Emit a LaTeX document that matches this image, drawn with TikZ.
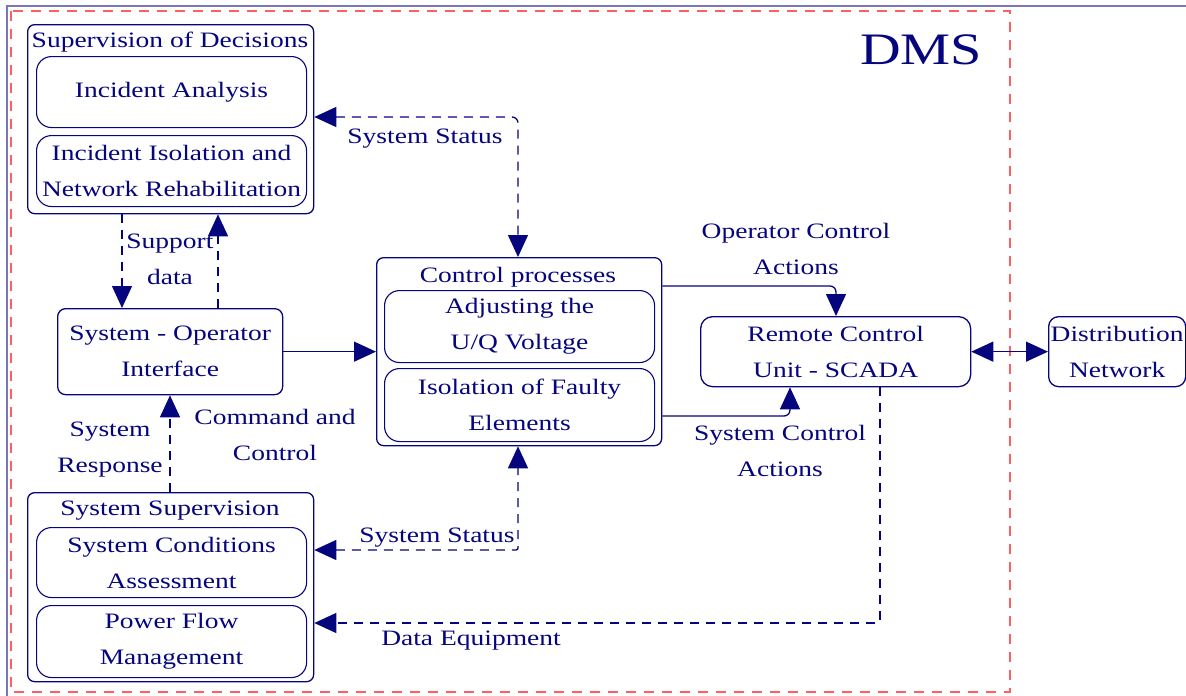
\documentclass[tikz,border=0pt]{standalone}
\usepackage{fontspec}
\setmainfont{Liberation Serif}[FakeStretch=1.25]
\usetikzlibrary{arrows.meta}
\definecolor{ink}{RGB}{5,5,125}
\definecolor{frameline}{RGB}{120,120,180}
\definecolor{redframe}{RGB}{255,95,95}

\begin{document}
\begin{tikzpicture}[x=1pt,y=-1pt,
  txt/.style={text=ink, font=\fontsize{22}{36}\selectfont, align=center, inner sep=0pt},
  group/.style={draw=ink, line width=1.3pt, rounded corners=7pt, anchor=north west, inner sep=0pt},
  item/.style={draw=ink, line width=1.1pt, rounded corners=15pt, anchor=north west, inner sep=0pt,
    text=ink, font=\fontsize{22}{36}\selectfont, align=center},
  conn/.style={draw=ink, line width=1.3pt},
  dashconn/.style={conn, dash pattern=on 9pt off 7pt},
  tip/.tip={Triangle[length=22pt,width=20pt]}]

\useasboundingbox (0,0) rectangle (1186,696);

% outer frame and DMS boundary
\draw[frameline, line width=1.5pt] (7,696) -- (7,6) -- (1186,6);
\draw[redframe, line width=1.2pt, dash pattern=on 10pt off 8pt] (11,11) rectangle (1010,692);
\node[txt, font=\fontsize{45}{50}\selectfont] (dms) at (921,50) {DMS};

% supervision of decisions
\node[group, minimum width=286pt, minimum height=189pt] (sd) at (27,24) {};
\node[txt] (sdt) at (170,42) {Supervision of Decisions};
\node[item, minimum width=270pt, minimum height=71pt] (ia) at (36,56) {Incident Analysis};
\node[item, minimum width=270pt, minimum height=71pt] (iso) at (36,135) {Incident Isolation and\\Network Rehabilitation};

% operator interface
\node[item, rounded corners=8pt, line width=1.3pt, minimum width=225pt, minimum height=86pt] (iface) at (57,308) {System - Operator\\Interface};

% system supervision
\node[group, minimum width=286pt, minimum height=189pt] (ss) at (27,492) {};
\node[txt] (sst) at (170,511) {System Supervision};
\node[item, minimum width=270pt, minimum height=70pt] (sca) at (36,527) {System Conditions\\Assessment};
\node[item, minimum width=270pt, minimum height=72pt] (pfm) at (36,605) {Power Flow\\Management};

% control processes
\node[group, minimum width=285pt, minimum height=188pt] (ctrl) at (376,257) {};
\node[txt] (ctrlt) at (518,277) {Control processes};
\node[item, minimum width=270pt, minimum height=72pt] (uq) at (384,290) {Adjusting the\\U/Q Voltage};
\node[item, minimum width=270pt, minimum height=73pt] (ife) at (384,368) {Isolation of Faulty\\Elements};

% SCADA and network
\node[item, rounded corners=12pt, line width=1.3pt, minimum width=270pt, minimum height=70pt] (rcu) at (700,316) {Remote Control\\Unit - SCADA};
\node[item, rounded corners=10pt, line width=1.3pt, minimum width=137pt, minimum height=70pt] (dn) at (1048,316) {Distribution\\Network};

% bend points
\coordinate (k1) at (518,117);
\coordinate (k2) at (122,0);
\coordinate (k3) at (218,0);
\coordinate (k5) at (170,0);
\coordinate (k6) at (518,550);
\coordinate (k7) at (836,286);
\coordinate (k8) at (790,416);
\coordinate (k9) at (880,623);

% connectors
\draw[dashconn, tip-tip, rounded corners=6pt] (sd.east |- k1) -- (k1) -- (ctrl.north -| k1);
\draw[dashconn, -tip] (sd.south -| k2) -- (iface.north -| k2);
\draw[dashconn, -tip] (iface.north -| k3) -- (sd.south -| k3);
\draw[conn, -tip] (iface.east) -- (ctrl.west |- iface.east);
\draw[dashconn, -tip] (ss.north -| k5) -- (iface.south -| k5);
\draw[dashconn, tip-tip, rounded corners=2pt] (ss.east |- k6) -- (k6) -- (ctrl.south -| k6);
\draw[conn, -tip, rounded corners=6pt] (ctrl.east |- k7) -- (k7) -- (rcu.north -| k7);
\draw[conn, -tip, rounded corners=6pt] (ctrl.east |- k8) -- (k8) -- (rcu.south -| k8);
\draw[dashconn, -tip, rounded corners=2pt] (rcu.south -| k9) -- (k9) -- (ss.east |- k9);
\draw[conn, tip-tip] (rcu.east) -- (dn.west);

% connector labels
\node[txt] (l1) at (425,139) {System Status};
\node[txt] (l2) at (170,259) {Support\\data};
\node[txt] (l3) at (110,450) {System\\Response};
\node[txt] (l4) at (275,435) {Command and\\Control};
\node[txt] (l5) at (796,249) {Operator Control\\Actions};
\node[txt] (l6) at (780,451) {System Control\\Actions};
\node[txt] (l7) at (437,538) {System Status};
\node[txt] (l8) at (471,641) {Data Equipment};
\end{tikzpicture}
\end{document}
